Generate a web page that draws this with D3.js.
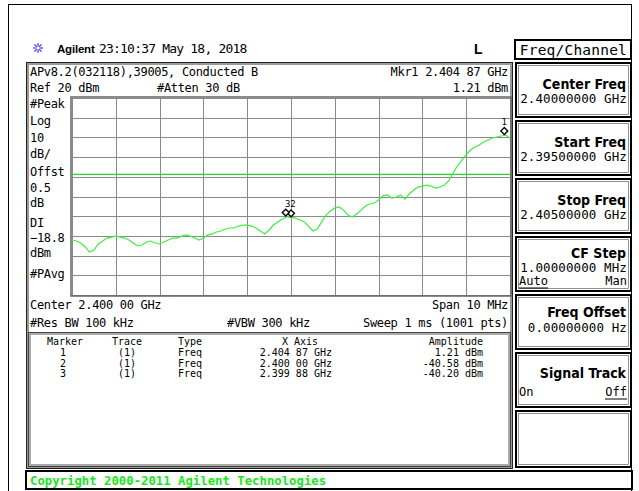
<!DOCTYPE html>
<html>
<head>
<meta charset="utf-8">
<script src="https://cdn.jsdelivr.net/npm/d3@7"></script>
<style>
html, body { margin: 0; padding: 0; background: #fff; }
svg { display: block; }
text { font-family: "DejaVu Sans Mono", monospace; fill: #000; }
</style>
</head>
<body>
<svg id="screen"></svg>
<script>
// sweep settings
var startGHz = 2.395;
var stopGHz = 2.405;
var refLevel = 20;
var dbPerDiv = 10;
var divisions = 10;
var displayLine = -18.8;

// trace, dBm, one value every 0.1 MHz from start to stop
var traceDbm = [
    -52.1, -52.6, -53.6, -55.6, -58.2, -57.2, -54.1, -52.6, -51.1, -50.6,
    -50.1, -50.6, -51.1, -52.1, -53.6, -55.1, -54.6, -53.1, -52.6, -53.6,
    -54.1, -53.1, -52.1, -51.1, -51.1, -50.1, -49.5, -50.1, -51.1, -52.1,
    -51.1, -49.5, -49.0, -48.0, -47.5, -46.5, -46.0, -46.0, -45.0, -44.5,
    -44.5, -45.0, -46.0, -47.5, -49.0, -47.0, -44.5, -42.9, -41.5, -40.3,
    -40.6, -41.0, -41.8, -42.9, -45.0, -47.5, -46.5, -42.9, -39.4, -37.4,
    -35.8, -35.3, -36.9, -39.4, -40.4, -38.9, -36.9, -34.8, -33.8, -33.3,
    -31.8, -29.7, -29.2, -30.8, -30.3, -29.2, -31.3, -28.7, -26.7, -25.2,
    -24.7, -24.2, -24.7, -25.7, -25.2, -24.2, -22.1, -18.1, -14.5, -11.5,
    -8.9, -6.4, -4.9, -3.9, -2.3, -1.3, -0.3, 0.2, 0.7, 1.2,
    -0.3
];

// markers
var markerIds = ['1', '2', '3'];
var markerGHz = [2.40487, 2.40000, 2.39988];
var markerDbm = [1.21, -40.58, -40.20];
var markerXText = ['2.404 87 GHz', '2.400 00 GHz', '2.399 88 GHz'];
var markerAmpText = ['1.21 dBm', '-40.58 dBm', '-40.20 dBm'];

// left annotation column
var leftLabels = ['#Peak', 'Log', '10', 'dB/', 'Offst', '0.5', 'dB', 'DI', '\u221218.8', 'dBm', '#PAvg'];
var leftBaselines = [108, 125, 142, 158, 176, 192, 207, 227, 242, 257, 278];

// softkey menu
var softTitles = ['Center Freq', 'Start Freq', 'Stop Freq', 'CF Step', 'Freq Offset', 'Signal Track', ''];
var softValues = ['2.40000000 GHz', '2.39500000 GHz', '2.40500000 GHz', '1.00000000 MHz', '0.00000000  Hz', '', ''];

var svg = d3.select('#screen').attr('width', 639).attr('height', 491);
var plot = {left: 72, right: 510, top: 98, bottom: 295};

var x = d3.scaleLinear().domain([startGHz, stopGHz]).range([plot.left, plot.right]);
var y = d3.scaleLinear()
    .domain([refLevel - dbPerDiv * divisions, refLevel])
    .range([plot.bottom, plot.top]);

function txt(g, s, px, py, opts) {
    opts = opts || {};
    return g.append('text')
        .attr('x', px).attr('y', py)
        .attr('text-anchor', opts.anchor || 'start')
        .style('font-size', (opts.size || 12) + 'px')
        .style('letter-spacing', (opts.ls === undefined ? -0.32 : opts.ls) + 'px')
        .style('font-weight', opts.weight || 'normal')
        .style('font-family', opts.family || null)
        .style('fill', opts.fill || '#000')
        .text(s);
}

function doubleBox(px, py, w, h, outer, inner) {
    svg.append('rect').attr('x', px + 0.5).attr('y', py + 0.5).attr('width', w).attr('height', h)
        .attr('fill', 'none').attr('stroke', outer).attr('stroke-width', 1);
    svg.append('rect').attr('x', px + 2).attr('y', py + 2).attr('width', w - 3).attr('height', h - 3)
        .attr('fill', 'none').attr('stroke', inner).attr('stroke-width', 2);
}

// outer bezel
svg.append('rect').attr('x', 8.5).attr('y', 4.5).attr('width', 623).attr('height', 500)
    .attr('fill', 'none').attr('stroke', '#000');

// header line
var star = svg.append('g').attr('transform', 'translate(38,48)');
d3.range(8).forEach(function (k) {
    var a = k * Math.PI / 4;
    star.append('line')
        .attr('x1', Math.cos(a) * 1.5).attr('y1', Math.sin(a) * 1.5)
        .attr('x2', Math.cos(a) * 5).attr('y2', Math.sin(a) * 5)
        .attr('stroke', '#3a3aff').attr('stroke-width', 1.2);
});
txt(svg, 'Agilent', 57, 53, {size: 11.5, weight: 'bold', family: '"Liberation Sans", Arial, sans-serif', ls: -0.2});
txt(svg, '23:10:37  May 18, 2018', 99, 53, {size: 13, ls: -0.8});
txt(svg, 'L', 474, 54, {size: 14, weight: 'bold', family: '"Liberation Sans", Arial, sans-serif', ls: 0});

// main display frame
doubleBox(26, 62, 486, 406, '#222', '#999');

txt(svg, 'APv8.2(032118),39005, Conducted B', 30, 76);
txt(svg, 'Mkr1  2.404 87 GHz', 508, 76, {anchor: 'end'});
txt(svg, 'Ref 20 dBm', 30, 92);
txt(svg, '#Atten 30 dB', 157, 92);
txt(svg, '1.21 dBm', 508, 92, {anchor: 'end'});

leftLabels.forEach(function (s, i) {
    txt(svg, s, 30, leftBaselines[i]);
});

// graticule
var grid = svg.append('g');
grid.append('g')
    .attr('transform', 'translate(0,' + plot.bottom + ')')
    .call(d3.axisBottom(x).tickValues(d3.range(divisions + 1).map(function (k) {
        return startGHz + (stopGHz - startGHz) * k / divisions;
    })).tickSize(-(plot.bottom - plot.top)).tickFormat(''))
    .call(function (g) { g.select('.domain').remove(); });
grid.append('g')
    .attr('transform', 'translate(' + plot.left + ',0)')
    .call(d3.axisLeft(y).ticks(divisions).tickSize(-(plot.right - plot.left)).tickFormat(''))
    .call(function (g) { g.select('.domain').remove(); });
grid.selectAll('.tick line').attr('stroke', '#8a8a8a').attr('stroke-width', 1).attr('shape-rendering', 'crispEdges');

svg.append('rect').attr('x', plot.left - 1).attr('y', plot.top - 1)
    .attr('width', plot.right - plot.left + 2).attr('height', plot.bottom - plot.top + 2)
    .attr('fill', 'none').attr('stroke', '#666').attr('stroke-width', 1.5);

// display line
svg.append('line')
    .attr('x1', plot.left).attr('x2', plot.right)
    .attr('y1', y(displayLine)).attr('y2', y(displayLine))
    .attr('stroke', '#2ad42a').attr('stroke-width', 1.2);

// trace
var traceStep = (stopGHz - startGHz) / (traceDbm.length - 1);
svg.append('path')
    .datum(traceDbm)
    .attr('d', d3.line()
        .x(function (d, i) { return x(startGHz + i * traceStep); })
        .y(function (d) { return y(d); }))
    .attr('fill', 'none')
    .attr('stroke', '#3cf03c')
    .attr('stroke-width', 1.2);

// markers (diamond drawn just above the trace point)
var mk = svg.append('g');
markerIds.forEach(function (id, i) {
    var mx = x(markerGHz[i]);
    var my = y(markerDbm[i]) - 4;
    mk.append('path')
        .attr('d', d3.symbol().type(d3.symbolDiamond2).size(30)())
        .attr('transform', 'translate(' + mx + ',' + my + ')')
        .attr('fill', '#fff').attr('stroke', '#000').attr('stroke-width', 1.4);
    txt(mk, id, mx + (id === '1' ? 0 : 2), my - 6, {size: 9, anchor: 'middle', ls: 0});
});

// bottom annotations
txt(svg, 'Center 2.400 00 GHz', 30, 309);
txt(svg, 'Span 10 MHz', 508, 309, {anchor: 'end'});
txt(svg, '#Res BW 100 kHz', 30, 327);
txt(svg, '#VBW 300 kHz', 227, 327);
txt(svg, 'Sweep 1 ms (1001 pts)', 508, 327, {anchor: 'end'});

// marker table
doubleBox(28, 332, 482, 134, '#444', '#aaa');
var tbl = svg.append('g');
var colX = [65, 127, 190, 300, 483];
var colAnchor = ['middle', 'middle', 'middle', 'middle', 'end'];
['Marker', 'Trace', 'Type', 'X Axis', 'Amplitude'].forEach(function (s, c) {
    txt(tbl, s, colX[c], 345, {size: 10, anchor: colAnchor[c], ls: 0});
});
markerIds.forEach(function (id, i) {
    var by = 356 + i * 10.5;
    txt(tbl, id, 63, by, {size: 10, anchor: 'middle', ls: 0});
    txt(tbl, '(1)', 127, by, {size: 10, anchor: 'middle', ls: 0});
    txt(tbl, 'Freq', 178, by, {size: 10, ls: 0});
    txt(tbl, markerXText[i], 332, by, {size: 10, anchor: 'end', ls: 0});
    txt(tbl, markerAmpText[i], 483, by, {size: 10, anchor: 'end', ls: 0});
});

// softkey panel
svg.append('rect').attr('x', 515).attr('y', 40).attr('width', 116).attr('height', 19)
    .attr('fill', 'none').attr('stroke', '#000').attr('stroke-width', 2);
txt(svg, 'Freq/Channel', 627, 55, {size: 14.5, anchor: 'end', ls: 0.2});

var boxTops = [63, 121, 179, 237, 295, 353, 411];
var titleOff = [26, 26, 26, 21, 22, 25, 0];
var valueOff = [40, 40, 40, 35, 37, 0, 0];
var titleFont = '"DejaVu Sans Condensed", "DejaVu Sans", sans-serif';
boxTops.forEach(function (top, i) {
    var h = i === boxTops.length - 1 ? 56 : 54;
    svg.append('rect').attr('x', 516).attr('y', top).attr('width', 115).attr('height', h)
        .attr('fill', 'none').attr('stroke', '#000').attr('stroke-width', 2);
    svg.append('rect').attr('x', 518.5).attr('y', top + 2.5).attr('width', 110).attr('height', h - 5)
        .attr('fill', 'none').attr('stroke', '#777').attr('stroke-width', 0.8);
    if (softTitles[i]) {
        txt(svg, softTitles[i], 626, top + titleOff[i],
            {size: 14, weight: 'bold', family: titleFont, anchor: 'end', ls: 0});
    }
    if (softValues[i]) {
        txt(svg, softValues[i], 627, top + valueOff[i], {size: 12.5, anchor: 'end', ls: 0.1});
    }
});
// CF Step Auto / Man
txt(svg, 'Auto', 519, 285, {size: 12, ls: 0});
svg.append('line').attr('x1', 519).attr('x2', 548).attr('y1', 288).attr('y2', 288).attr('stroke', '#000');
txt(svg, 'Man', 627, 285, {size: 12, anchor: 'end', ls: 0});
// Signal Track On / Off
txt(svg, 'On', 519, 396, {size: 12, ls: 0});
txt(svg, 'Off', 627, 396, {size: 12, anchor: 'end', ls: 0});
svg.append('line').attr('x1', 605).attr('x2', 627).attr('y1', 399).attr('y2', 399).attr('stroke', '#000');

// copyright strip
svg.append('rect').attr('x', 26).attr('y', 471).attr('width', 606).attr('height', 18)
    .attr('fill', 'none').attr('stroke', '#000').attr('stroke-width', 2);
txt(svg, 'Copyright 2000-2011 Agilent Technologies', 30, 485, {size: 12.3, weight: 'bold', fill: '#19e619', ls: 0});
</script>
</body>
</html>
